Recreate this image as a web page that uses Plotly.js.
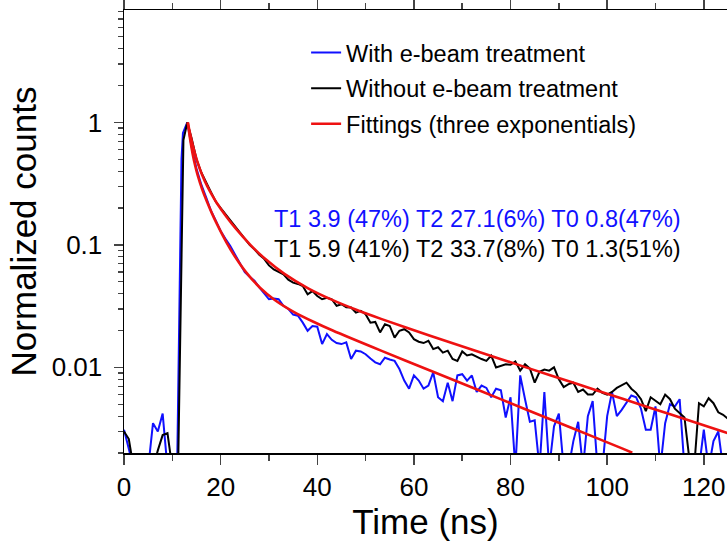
<!DOCTYPE html>
<html>
<head>
<meta charset="utf-8">
<script src="https://cdn.plot.ly/plotly-3.0.1.min.js"></script>
<style>html,body{margin:0;padding:0;background:#fff;}</style>
</head>
<body>
<div id="chart" style="width:727px;height:546px;"></div>
<script>
// ---- data ----
const blueName = 'With e-beam treatment';
const blackName = 'Without e-beam treatment';
const fitName = 'Fittings (three exponentials)';

const blueX = [0,1,2,3,4,5,6,7,8,9,10,11,11.9,12.2,13.1,
  14,15,16,17,18,19,20,21,22,23,24,25,26,27,28,29,30,31,32,33,34,35,36,37,38,39,40,
  41,42,43,44,45,46,47,48,49,50,51,52,53,54,55,56,57,58,59,60,61,62,63,64,65,66,67,68,69,70,
  71,72,73,74,75,76,77,78,79,80,81,82,83,84,85,86,87,88,89,90,91,92,93,94,95,96,97,98,99,100,
  101,102,103,104,105,106,107,108,109,110,111,112,113,114,115,116,117,118,119,120,121,122,123,124,125];
const blueY = [0.0031,0.0022,0.0015,0.0015,0.0015,0.0015,0.0035,0.003,0.0042,0.0015,0.0015,0.0015,0.5,0.82,1.0,
  0.63,0.42,0.31,0.245,0.19,0.158,0.13,0.112,0.098,0.083,0.07,0.06,0.055,0.051,0.045,0.040,0.036,0.0365,0.036,0.0318,0.030,0.027,0.0264,0.0232,0.0199,0.0218,0.0215,
  0.0155,0.0187,0.0168,0.0158,0.0155,0.016,0.0117,0.0137,0.0135,0.0128,0.0118,0.011,0.0106,0.012,0.0116,0.0113,0.0097,0.0078,0.0067,0.0086,0.0078,0.0067,0.0071,0.0091,0.0057,0.0053,0.0075,0.0053,0.0086,0.0088,
  0.0078,0.0086,0.0063,0.0071,0.0068,0.0057,0.0067,0.0065,0.0039,0.0057,0.0015,0.0086,0.0055,0.0036,0.0037,0.0015,0.0063,0.0015,0.0033,0.0042,0.0015,0.0015,0.0025,0.0036,0.0015,0.004,0.0053,0.0015,0.0015,0.004,
  0.0063,0.004,0.0045,0.0052,0.0059,0.0057,0.0046,0.0031,0.0031,0.0048,0.0015,0.0035,0.005,0.0048,0.0055,0.0015,0.0015,0.0015,0.0015,0.0031,0.0015,0.0025,0.003,0.0015,0.0015];

const blackX = [0,1,2,3,4,5,6,7,8,9,10,11,11.2,12.3,13.1,
  14,15,16,17,18,19,20,21,22,23,24,25,26,27,28,29,30,31,32,33,34,35,36,37,38,39,40,
  41,42,43,44,45,46,47,48,49,50,51,52,53,54,55,56,57,58,59,60,61,62,63,64,65,66,67,68,69,70,
  71,72,73,74,75,76,77,78,79,80,81,82,83,84,85,86,87,88,89,90,91,92,93,94,95,96,97,98,99,100,
  101,102,103,104,105,106,107,108,109,110,111,112,113,114,115,116,117,118,119,120,121,122,123,124,125];
const blackY = [0.003,0.0026,0.0015,0.0015,0.0015,0.0015,0.0015,0.0021,0.0028,0.0029,0.0015,0.0015,0.0015,0.72,1.0,
  0.74,0.50,0.39,0.32,0.27,0.225,0.20,0.178,0.16,0.14,0.125,0.113,0.100,0.092,0.083,0.077,0.068,0.063,0.060,0.0575,0.052,0.0492,0.048,0.0462,0.0395,0.042,0.0383,
  0.036,0.037,0.036,0.0318,0.0328,0.031,0.0308,0.028,0.029,0.0272,0.0232,0.0235,0.0193,0.0225,0.0218,0.0175,0.0199,0.0205,0.0193,0.017,0.0162,0.0158,0.0165,0.0141,0.0146,0.0132,0.0137,0.0117,0.0113,0.0135,
  0.0125,0.0128,0.0122,0.0117,0.0113,0.0125,0.010,0.0103,0.0106,0.0105,0.0112,0.0094,0.0106,0.0098,0.0075,0.0092,0.0096,0.0094,0.010,0.008,0.0069,0.0073,0.0075,0.0063,0.0066,0.006,0.006,0.0067,0.0062,0.006,
  0.0063,0.0068,0.0071,0.0075,0.0067,0.0062,0.0055,0.0044,0.0057,0.0053,0.005,0.006,0.0055,0.0046,0.0042,0.0039,0.0018,0.0015,0.0051,0.0048,0.0056,0.0051,0.0043,0.0041,0.0038];

// red fit curves
const fitBlackX = [13.2,13.7,14.2,14.7,15.2,16.2,17.2,18.2,19.2,21.2,23.2,26.2,29.2,33.2,38.2,43.2,48.2,53.2,63.2,73.2,83.2,93.2,103.2,113.2,125.2];
const fitBlackY = [1.0,0.803,0.660,0.555,0.477,0.370,0.303,0.256,0.220,0.170,0.135,0.0997,0.0770,0.0580,0.0440,0.0354,0.0294,0.0249,0.0182,0.0135,0.0100,0.00745,0.00554,0.00412,0.00288];
const fitBlueX = [13.2,13.7,14.2,14.7,15.2,16.2,17.2,18.2,19.2,21.2,23.2,25.2,28.2,31.2,35.2,39.2,43.2,53.2,63.2,73.2,83.2,93.2,103.2,105.2];
const fitBlueY = [1.0,0.724,0.556,0.449,0.376,0.283,0.224,0.181,0.149,0.105,0.0777,0.0602,0.0445,0.0355,0.0283,0.0236,0.0200,0.0137,0.00948,0.00656,0.00453,0.00314,0.00217,0.00201];

const xTickVals = [0,20,40,60,80,100,120];
const yTickVals = [0.01,0.1,1];
const yTickText = ['0.01','0.1','1'];
const blueLabel = 'T1 3.9 (47%) T2 27.1(6%) T0 0.8(47%)';
const blackLabel = 'T1 5.9 (41%) T2 33.7(8%) T0 1.3(51%)';

// ---- styling ----
const yMinor = [];
[0.001,0.01,0.1,1].forEach(d => { for (let k = 2; k <= 9; k++) yMinor.push(+(d*k).toPrecision(3)); });

const FONT = 'Liberation Sans, Arial, Helvetica, sans-serif';
const traces = [
  {x: blueX, y: blueY, type: 'scatter', mode: 'lines', name: blueName, legendgroup: 'a',
   line: {color: '#1010ff', width: 2}},
  {x: blackX, y: blackY, type: 'scatter', mode: 'lines', name: blackName, legendgroup: 'b',
   line: {color: '#000000', width: 2}},
  {x: fitBlackX, y: fitBlackY, type: 'scatter', mode: 'lines', name: fitName, legendgroup: 'c',
   line: {color: '#ee1111', width: 2.6, shape: 'spline', smoothing: 0.8}},
  {x: fitBlueX, y: fitBlueY, type: 'scatter', mode: 'lines', name: fitName, legendgroup: 'c', showlegend: false,
   line: {color: '#ee1111', width: 2.6, shape: 'spline', smoothing: 0.8}}
];

const layout = {
  width: 727, height: 546,
  margin: {l: 124, r: 0, t: 10, b: 93},
  paper_bgcolor: '#ffffff', plot_bgcolor: '#ffffff',
  font: {family: FONT, color: '#000'},
  showlegend: true,
  legend: {x: 0.302, y: 0.953, xanchor: 'left', yanchor: 'top', font: {size: 23.5, family: FONT},
           bgcolor: 'rgba(0,0,0,0)', traceorder: 'grouped', tracegroupgap: 2},
  xaxis: {range: [0, 124.8], tickmode: 'array', tickvals: xTickVals, ticks: 'outside', ticklen: 10, tickwidth: 1.5,
          showline: true, linewidth: 1.5, linecolor: '#000', mirror: 'ticks', showgrid: false, zeroline: false,
          tickfont: {size: 26}, minor: {dtick: 10, tick0: 0, ticks: 'outside', ticklen: 6, tickwidth: 1.5, showgrid: false},
          title: {text: 'Time (ns)', font: {size: 35}, standoff: 8}},
  yaxis: {type: 'log', range: [Math.log10(0.002), 0.918], tickmode: 'array', tickvals: yTickVals, ticktext: yTickText,
          ticks: 'outside', ticklen: 9, tickwidth: 1.5, ticklabelstandoff: 6,
          showline: true, linewidth: 1.5, linecolor: '#000', mirror: 'ticks', showgrid: false, zeroline: false,
          tickfont: {size: 26}, minor: {tickmode: 'array', tickvals: yMinor, ticks: 'outside', ticklen: 5, tickwidth: 1.2, showgrid: false},
          title: {text: 'Normalized counts', font: {size: 35}, standoff: 4}},
  annotations: [
    {xref: 'paper', yref: 'paper', x: 0.2454, y: 0.528, xanchor: 'left', yanchor: 'middle', showarrow: false,
     text: blueLabel, font: {size: 23.5, color: '#1010ff', family: FONT}},
    {xref: 'paper', yref: 'paper', x: 0.2454, y: 0.4605, xanchor: 'left', yanchor: 'middle', showarrow: false,
     text: blackLabel, font: {size: 23.5, color: '#000', family: FONT}}
  ]
};

Plotly.newPlot('chart', traces, layout, {displayModeBar: false, staticPlot: true});
</script>
</body>
</html>
